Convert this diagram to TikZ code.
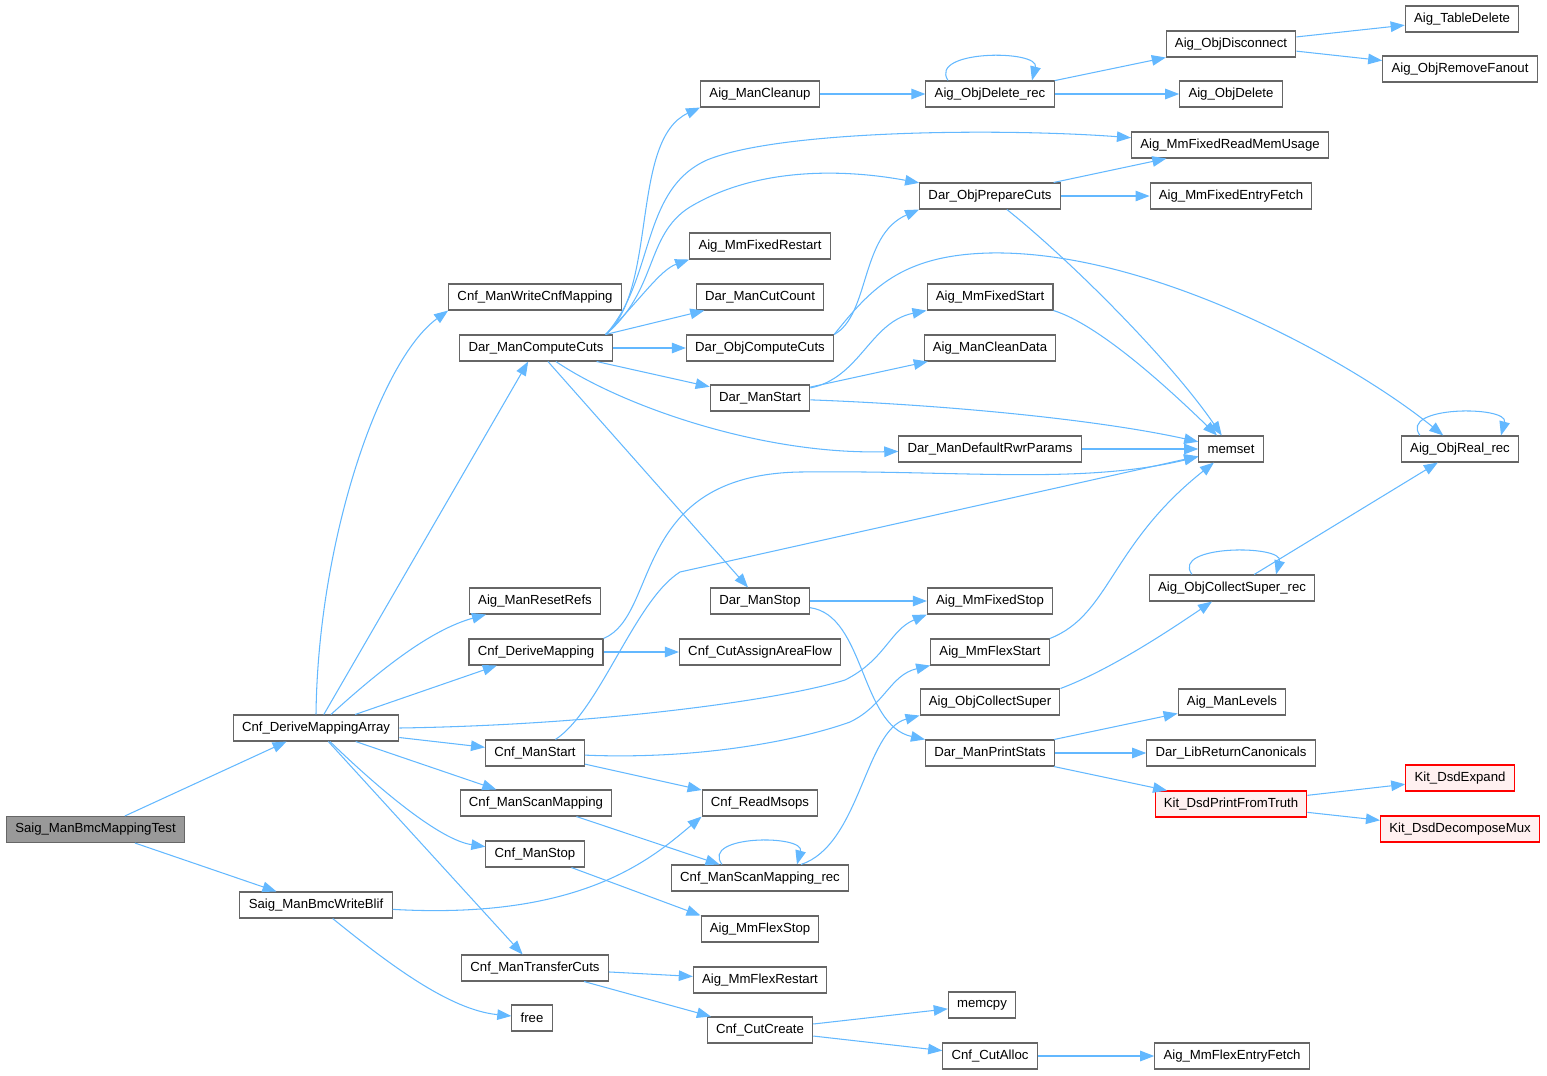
\documentclass[tikz,border=0pt]{standalone}
\usepackage{fontspec}
\setmainfont{Liberation Sans}
\usetikzlibrary{arrows.meta,calc}
\definecolor{edgeblue}{HTML}{63B8FF}
\definecolor{boxgray}{HTML}{666666}
\definecolor{rootgray}{HTML}{999999}
\definecolor{redfill}{HTML}{FFF0F0}
\begin{document}
\begin{tikzpicture}[x=0.02cm,y=-0.02cm,
    fn/.style={draw=boxgray,fill=white,line width=0.6pt,inner xsep=5pt,inner ysep=0pt,
      minimum height=0.52cm,font=\fontsize{7.5}{9}\selectfont},
    fnroot/.style={fn,fill=rootgray},
    fnred/.style={fn,draw=red,fill=redfill},
    call/.style={draw=edgeblue,line width=0.6pt,-{Triangle[length=8pt,width=6pt]}}]
  \useasboundingbox (0,0) rectangle (1547,1075);
  % column 0 and 1
  \node[fnroot] (test) at (95.5,829.5) {Saig\_ManBmcMappingTest};
  \node[fn] (dmarr) at (316,728) {Cnf\_DeriveMappingArray};
  \node[fn] (wblif) at (316,905) {Saig\_ManBmcWriteBlif};
  % column 2
  \node[fn] (wcnf) at (535,297) {Cnf\_ManWriteCnfMapping};
  \node[fn] (dcuts) at (536,348) {Dar\_ManComputeCuts};
  \node[fn] (rrefs) at (535,601) {Aig\_ManResetRefs};
  \node[fn] (dmap) at (536,652) {Cnf\_DeriveMapping};
  \node[fn] (cstart) at (535,753) {Cnf\_ManStart};
  \node[fn] (scan) at (536,803) {Cnf\_ManScanMapping};
  \node[fn] (cstop) at (535,854) {Cnf\_ManStop};
  \node[fn] (tcuts) at (535,968) {Cnf\_ManTransferCuts};
  \node[fn] (free) at (532,1018) {free};
  % column 3
  \node[fn] (clean) at (760,94) {Aig\_ManCleanup};
  \node[fn] (fxrst) at (760,246) {Aig\_MmFixedRestart};
  \node[fn] (ccount) at (760,297) {Dar\_ManCutCount};
  \node[fn] (ocuts) at (760,348) {Dar\_ObjComputeCuts};
  \node[fn] (dstart) at (760,398) {Dar\_ManStart};
  \node[fn] (dstop) at (760,601) {Dar\_ManStop};
  \node[fn] (aflow) at (760,652) {Cnf\_CutAssignAreaFlow};
  \node[fn] (msops) at (760,803) {Cnf\_ReadMsops};
  \node[fn] (scanrec) at (760,878) {Cnf\_ManScanMapping\_rec};
  \node[fn] (flxstop) at (760,929) {Aig\_MmFlexStop};
  \node[fn] (flxrst) at (760,980) {Aig\_MmFlexRestart};
  \node[fn] (ccreate) at (760,1030) {Cnf\_CutCreate};
  % column 4
  \node[fn] (delrec) at (990,94) {Aig\_ObjDelete\_rec};
  \node[fn] (pcuts) at (990,196) {Dar\_ObjPrepareCuts};
  \node[fn] (fxstart) at (990,297) {Aig\_MmFixedStart};
  \node[fn] (cdata) at (990,348) {Aig\_ManCleanData};
  \node[fn] (rwr) at (990,449) {Dar\_ManDefaultRwrParams};
  \node[fn] (fxstop) at (990,601) {Aig\_MmFixedStop};
  \node[fn] (flxstart) at (990,652) {Aig\_MmFlexStart};
  \node[fn] (csup) at (990,702) {Aig\_ObjCollectSuper};
  \node[fn] (pstats) at (990,753) {Dar\_ManPrintStats};
  \node[fn] (memcpy) at (982,1005) {memcpy};
  \node[fn] (calloc) at (990,1056) {Cnf\_CutAlloc};
  % column 5
  \node[fn] (disc) at (1231,44) {Aig\_ObjDisconnect};
  \node[fn] (odel) at (1231,94) {Aig\_ObjDelete};
  \node[fn] (memuse) at (1230,145) {Aig\_MmFixedReadMemUsage};
  \node[fn] (fxfetch) at (1231,196) {Aig\_MmFixedEntryFetch};
  \node[fn] (memset) at (1231,449) {memset};
  \node[fn] (csuprec) at (1232,588) {Aig\_ObjCollectSuper\_rec};
  \node[fn] (levels) at (1232,702) {Aig\_ManLevels};
  \node[fn] (canon) at (1231,753) {Dar\_LibReturnCanonicals};
  \node[fnred] (pft) at (1231,804) {Kit\_DsdPrintFromTruth};
  \node[fn] (flxfetch) at (1232,1056) {Aig\_MmFlexEntryFetch};
  % column 6
  \node[fn] (tdel) at (1462,19) {Aig\_TableDelete};
  \node[fn] (rfan) at (1460,69) {Aig\_ObjRemoveFanout};
  \node[fn] (realrec) at (1460,449) {Aig\_ObjReal\_rec};
  \node[fnred] (expand) at (1460,778) {Kit\_DsdExpand};
  \node[fnred] (dmux) at (1460,829) {Kit\_DsdDecomposeMux};

  % calls
  \coordinate (dcutsup) at ([xshift=-0.14cm]dcuts.north east);
  \draw[call] (test) -- (dmarr);
  \draw[call] (test) -- (wblif);
  \draw[call] (dmarr.north) .. controls (318,540) and (380,360) .. (wcnf.south west);
  \draw[call] (dmarr) -- (dcuts);
  \draw[call] (dmarr) .. controls (380,670) and (430,630) .. (rrefs);
  \draw[call] (dmarr) -- (dmap);
  \draw[call] (dmarr) -- (cstart);
  \draw[call] (dmarr) -- (scan);
  \draw[call] (dmarr) .. controls (380,790) and (440,840) .. (cstop);
  \draw[call] (dmarr) -- (tcuts);
  \draw[call] (dmarr.east) .. controls (600,725) and (780,700) .. (845,680)
    .. controls (885,660) and (890,630) .. (fxstop.south west);
  \draw[call] (wblif) .. controls (580,920) and (650,860) .. (msops.south west);
  \draw[call] (wblif) .. controls (390,965) and (450,1010) .. (free);

  \draw[call] (dcutsup) .. controls (658,290) and (630,140) .. (clean.south west);
  \draw[call] (dcutsup) .. controls (655,280) and (640,190) .. (707,160)
    .. controls (780,130) and (1000,128) .. (memuse);
  \draw[call] (dcutsup) .. controls (658,290) and (645,235) .. (690,207)
    .. controls (760,165) and (850,170) .. (pcuts);
  \draw[call] (dcutsup) .. controls (640,300) and (660,270) .. (fxrst.south west);
  \draw[call] (dcutsup) -- (ccount);
  \draw[call] (dcuts) -- (ocuts);
  \draw[call] (dcuts) -- (dstart);
  \draw[call] (dcuts) .. controls (620,405) and (760,455) .. (rwr);
  \draw[call] (dcuts) -- (dstop);

  \draw[call] (dmap.north east) .. controls (660,615) and (630,475) .. (800,472)
    .. controls (960,470) and (1080,485) .. (memset);
  \draw[call] (dmap) -- (aflow);
  \draw[call] (cstart) .. controls (600,710) and (635,600) .. (680,572) -- (memset);
  \draw[call] (cstart) .. controls (700,760) and (800,740) .. (850,722)
    .. controls (885,705) and (890,675) .. (flxstart.south west);
  \draw[call] (cstart) -- (msops);
  \draw[call] (scan) -- (scanrec);
  \draw[call] (cstop) -- (flxstop.north west);
  \draw[call] (tcuts) -- (flxrst);
  \draw[call] (tcuts) -- (ccreate);

  \draw[call] (clean) -- (delrec);
  \draw[call] ($(delrec.north)+(-42,0)$) .. controls +(-20,-31) and +(8,-31) .. ($(delrec.north)+(42,0)$);
  \draw[call] (delrec) -- (disc);
  \draw[call] (delrec) -- (odel);
  \draw[call] (disc) -- (tdel);
  \draw[call] (disc) -- (rfan);
  \draw[call] (pcuts) -- (memuse);
  \draw[call] (pcuts) -- (fxfetch);
  \draw[call] (pcuts) .. controls (1070,260) and (1170,360) .. (memset);
  \draw[call] (ocuts.north east) .. controls (870,315) and (860,235) .. (pcuts.south west);
  \draw[call] (ocuts.north east) .. controls (870,290) and (900,255) .. (990,253)
    .. controls (1150,250) and (1350,360) .. (realrec);
  \draw[call] (dstart) .. controls (860,378) and (870,322) .. (fxstart.south west);
  \draw[call] (dstart) -- (cdata);
  \draw[call] (dstart) .. controls (950,405) and (1100,420) .. (memset);
  \draw[call] (fxstart.south east) .. controls (1100,325) and (1170,390) .. (memset);
  \draw[call] (rwr) -- (memset);
  \draw[call] ($(realrec.north)+(-40,0)$) .. controls +(-22,-30) and +(8,-30) .. ($(realrec.north)+(41,0)$);

  \draw[call] (dstop) -- (fxstop);
  \draw[call] (dstop) .. controls (865,615) and (860,725) .. (pstats.north west);
  \draw[call] (flxstart.north east) .. controls (1110,615) and (1110,545) .. (memset);
  \draw[call] (csup.north east) .. controls (1110,670) and (1170,630) .. (csuprec);
  \draw[call] ($(csuprec.north)+(-40,0)$) .. controls +(-22,-30) and +(8,-30) .. ($(csuprec.north)+(44,0)$);
  \draw[call] (csuprec) -- (realrec);
  \draw[call] (pstats) -- (levels);
  \draw[call] (pstats) -- (canon);
  \draw[call] (pstats) -- (pft);
  \draw[call] (pft) -- (expand);
  \draw[call] (pft) -- (dmux);
  \draw[call] ($(scanrec.north)+(-38,0)$) .. controls +(-22,-30) and +(8,-30) .. ($(scanrec.north)+(37,0)$);
  \draw[call] (scanrec) .. controls (860,845) and (865,730) .. (csup.south west);
  \draw[call] (ccreate) -- (memcpy);
  \draw[call] (ccreate) -- (calloc);
  \draw[call] (calloc) -- (flxfetch);
\end{tikzpicture}
\end{document}
